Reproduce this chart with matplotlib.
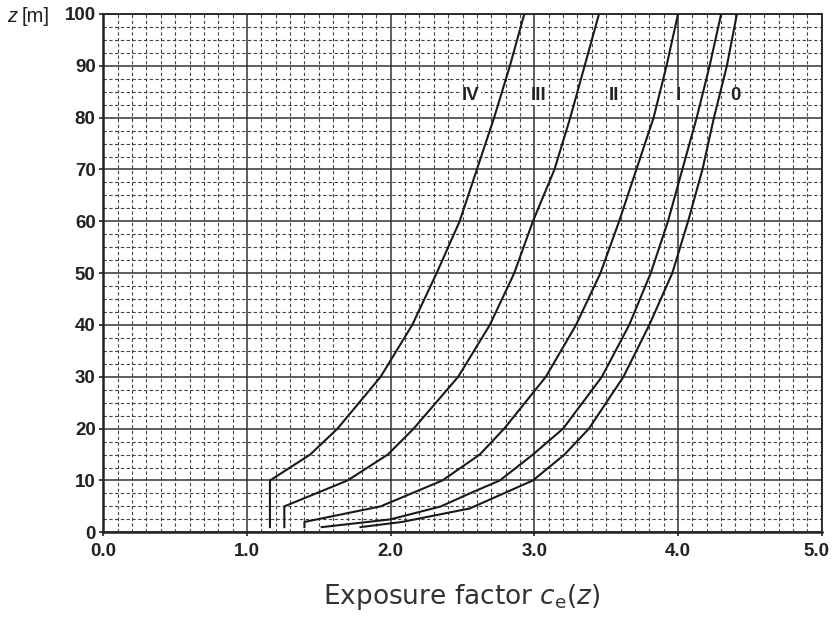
import matplotlib
matplotlib.use("Agg")
import matplotlib.pyplot as plt
from matplotlib.transforms import blended_transform_factory, ScaledTranslation
import numpy as np

plt.rcParams['font.family'] = ['Liberation Sans', 'DejaVu Sans']
plt.rcParams['mathtext.fontset'] = 'custom'
plt.rcParams['mathtext.rm'] = 'DejaVu Sans'
plt.rcParams['mathtext.it'] = 'DejaVu Sans:italic'

# ---- data ----
cat_labels = ["IV", "III", "II", "I", "0"]

z_IV = [1, 10, 15, 20, 30, 40, 50, 60, 70, 80, 90, 100]
ce_IV = [1.16, 1.16, 1.44, 1.63, 1.93, 2.15, 2.32, 2.48, 2.60, 2.72, 2.83, 2.93]

z_III = [1, 5, 10, 15, 20, 30, 40, 50, 60, 70, 80, 90, 100]
ce_III = [1.26, 1.26, 1.70, 1.98, 2.16, 2.47, 2.69, 2.86, 2.99, 3.14, 3.25, 3.35, 3.45]

z_II = [1, 2, 5, 10, 15, 20, 30, 40, 50, 60, 70, 80, 90, 100]
ce_II = [1.40, 1.40, 1.93, 2.36, 2.62, 2.79, 3.08, 3.29, 3.46, 3.59, 3.71, 3.83, 3.92, 4.00]

z_I = [1, 2.5, 5, 7.5, 10, 15, 20, 30, 40, 50, 60, 70, 80, 90, 100]
ce_I = [1.52, 2.00, 2.35, 2.55, 2.76, 2.99, 3.20, 3.47, 3.66, 3.81, 3.93, 4.03, 4.13, 4.22, 4.30]

z_0 = [1, 2, 4.6, 10, 15, 20, 30, 40, 50, 60, 70, 80, 90, 100]
ce_0 = [1.79, 2.08, 2.55, 2.99, 3.21, 3.38, 3.62, 3.80, 3.96, 4.07, 4.17, 4.25, 4.34, 4.41]

label_x = [2.56, 3.03, 3.556, 4.0, 4.40]
label_z = 84.2

x_ticks = [0.0, 1.0, 2.0, 3.0, 4.0, 5.0]
x_ticklabels = ["0.0", "1.0", "2.0", "3.0", "4.0", "5.0"]
y_ticks = [0, 10, 20, 30, 40, 50, 60, 70, 80, 90, 100]

# ---- figure ----
fig = plt.figure(figsize=(8.33, 6.21), dpi=100)
ax = fig.add_axes([103.3 / 833, 1 - 532.3 / 621, (821.7 - 103.3) / 833, (532.3 - 14) / 621])

ax.set_xlim(0, 5)
ax.set_ylim(0, 100)
ax.set_xticks(x_ticks)
ax.set_xticklabels(x_ticklabels)
ax.set_yticks(y_ticks)
ax.set_xticks(np.arange(0, 5.001, 0.1), minor=True)
ax.set_yticks(np.arange(0, 100.001, 2.5), minor=True)

ax.grid(which='major', color='#333333', lw=1.1, ls='-', zorder=1)
ax.grid(which='minor', color='#444444', lw=0.8, ls=(0, (3, 2.2)), zorder=0)
ax.set_axisbelow(True)

for s in ax.spines.values():
    s.set_color('#222222')
    s.set_linewidth(1.3)
ax.spines['bottom'].set_linewidth(1.8)
ax.spines['left'].set_linewidth(1.8)

ax.tick_params(which='major', direction='out', length=3, width=1.2, color='#222222',
               labelsize=13.5, labelcolor='#222222')
ax.tick_params(axis='y', pad=2.5)
ax.tick_params(axis='x', pad=4.5)
ax.tick_params(which='minor', length=0)
xlabs = ax.get_xticklabels()
for lab in xlabs + ax.get_yticklabels():
    lab.set_fontweight('bold')
# last x label sits slightly left of its tick in the reference
xlabs[-1].set_transform(xlabs[-1].get_transform() + ScaledTranslation(-5 / 100, 0, fig.dpi_scale_trans))

series = [(ce_IV, z_IV), (ce_III, z_III), (ce_II, z_II), (ce_I, z_I), (ce_0, z_0)]
for ce, z in series:
    ax.plot(ce, z, color='#1a1a1a', lw=1.5, solid_joinstyle='round', zorder=3)

for lx, lab in zip(label_x, cat_labels):
    ax.text(lx, label_z, lab, fontsize=13.5, fontweight='bold', color='#222222',
            ha='center', va='center', zorder=4,
            bbox=dict(facecolor='white', edgecolor='none', pad=0.6))

# axis titles
tr = blended_transform_factory(fig.transFigure, ax.transData)
fig.text(7 / 833, 99.5, "z", transform=tr, fontsize=14.5, style='italic', color='#222222',
         va='center', ha='left')
fig.text(22 / 833, 99.5, "[m]", transform=tr, fontsize=14.5, color='#222222',
         va='center', ha='left')

fig.text(461.5 / 833, 1 - 597 / 621, r"Exposure factor $c_\mathrm{e}(z)$", fontsize=19,
         family=['DejaVu Sans'], color='#333333', ha='center', va='center')

fig.savefig("out.png", dpi=100)
